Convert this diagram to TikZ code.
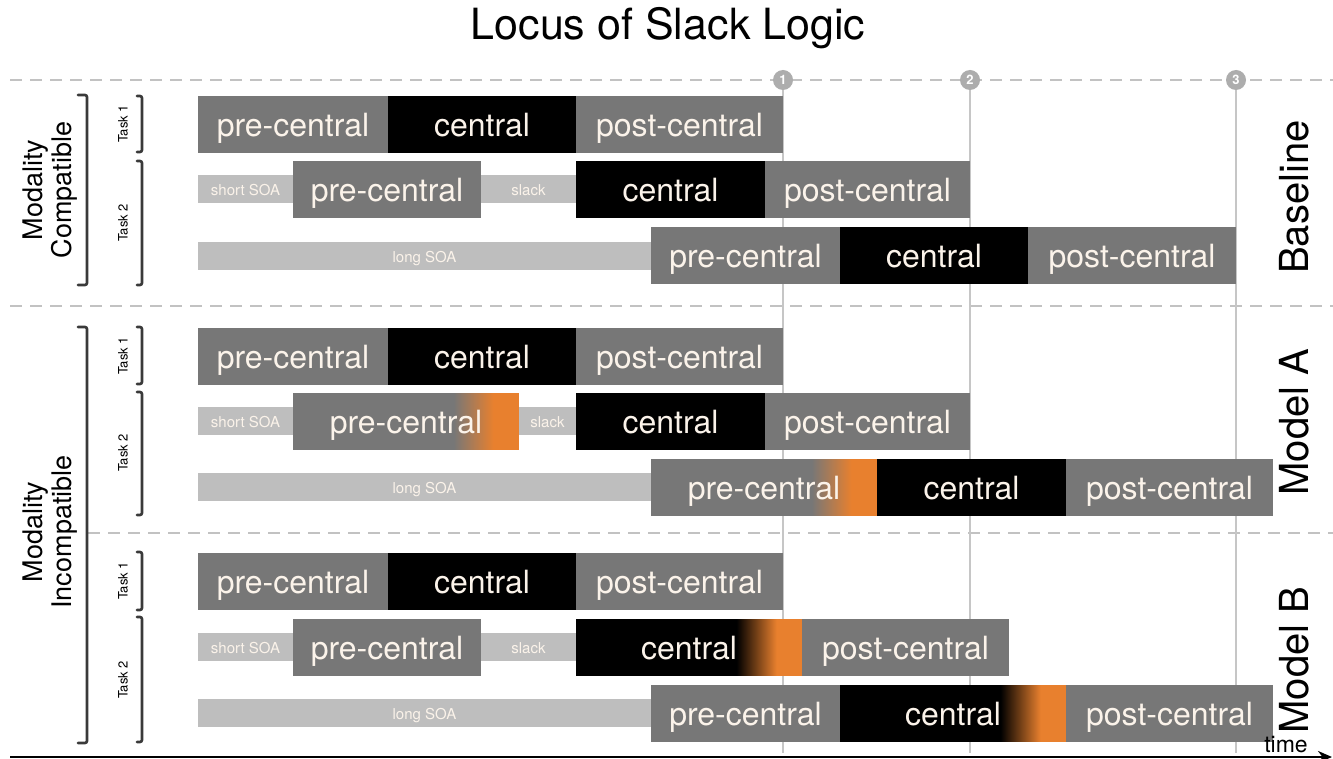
\documentclass[tikz,border=0pt]{standalone}
\usepackage{fontspec}
\setmainfont{TeX Gyre Heros}
\usetikzlibrary{arrows.meta}
\definecolor{dgray}{HTML}{777777}
\definecolor{lgray}{HTML}{BEBEBE}
\definecolor{org}{HTML}{E8802E}
\definecolor{cream}{HTML}{FBF3EA}
\definecolor{dashc}{HTML}{C2C2C2}
\definecolor{vline}{HTML}{C6C6C6}
\definecolor{circc}{HTML}{ADADAD}
\definecolor{brk}{HTML}{3A3A3A}
\begin{document}
\begin{tikzpicture}[x=1pt,y=-1pt,
  phase/.style={anchor=west, minimum height=57pt, inner sep=0pt, outer sep=0pt,
    text=cream, font=\fontsize{32}{32}\selectfont, text height=27pt, text depth=3pt},
  prebox/.style={phase, fill=dgray},
  cenbox/.style={phase, fill=black},
  postbox/.style={phase, fill=dgray},
  soabar/.style={anchor=west, minimum height=28pt, inner sep=0pt, outer sep=0pt,
    fill=lgray, text=cream, font=\fontsize{15}{15}\selectfont, text height=13pt, text depth=0pt},
  orangefade/.style={path picture={
    \foreach \i in {0,...,39}{
      \pgfmathsetmacro\pc{\i*2.5+1.25}
      \fill[org!\pc!#1]
        ([xshift={(\i-65)*1pt}]path picture bounding box.north east) rectangle
        ([xshift={(\i-63.6)*1pt}]path picture bounding box.south east);}
    \fill[org] ([xshift=-25pt]path picture bounding box.north east) rectangle
      (path picture bounding box.south east);}},
  dashline/.style={draw=dashc, line width=2pt, dash pattern=on 12pt off 8pt},
  milestone/.style={circle, fill=circc, minimum size=20pt, inner sep=0pt,
    text=white, font=\fontsize{13}{13}\selectfont\bfseries},
  timeline/.style={draw=vline, line width=1.3pt},
  brkt/.style={draw=brk, line width=2.6pt, rounded corners=2pt, line cap=round},
  tasklbl/.style={rotate=90, font=\fontsize{13}{13}\selectfont},
  grouplbl/.style={rotate=90, align=center, font=\fontsize{27}{29}\selectfont},
  modellbl/.style={rotate=90, font=\fontsize{40}{40}\selectfont}
]
\useasboundingbox[fill=white] (0,0) rectangle (1333,759);

% title
\node[font=\fontsize{43}{43}\selectfont] (title) at (668,28) {Locus of Slack Logic};

% dashed separators
\draw[dashline] (10,80) -- (1333,80);
\draw[dashline] (10,306) -- (1333,306);
\draw[dashline] (88,533) -- (1333,533);

% milestones and time lines
\coordinate (bot) at (0,753);
\node[milestone] (m1) at (783,80) {1};
\node[milestone] (m2) at (970,80) {2};
\node[milestone] (m3) at (1236,80) {3};
\draw[timeline] (m1.south) -- (m1 |- bot);
\draw[timeline] (m2.south) -- (m2 |- bot);
\draw[timeline] (m3.south) -- (m3 |- bot);

% ===== Baseline =====
\node[prebox, minimum width=190pt] (a1pre) at (198,124.5) {pre-central};
\node[cenbox, minimum width=188pt] (a1cen) at (388,124.5) {central};
\node[postbox, minimum width=207pt] (a1post) at (576,124.5) {post-central};

\node[soabar, minimum width=95pt] (a2soa) at (198,189.5) {short SOA};
\node[prebox, minimum width=188pt] (a2pre) at (293,189.5) {pre-central};
\node[soabar, minimum width=95pt] (a2slack) at (481,189.5) {slack};
\node[cenbox, minimum width=189pt] (a2cen) at (576,189.5) {central};
\node[postbox, minimum width=205pt] (a2post) at (765,189.5) {post-central};

\node[soabar, minimum width=453pt] (a3soa) at (198,256) {long SOA};
\node[prebox, minimum width=189pt] (a3pre) at (651,256) {pre-central};
\node[cenbox, minimum width=188pt] (a3cen) at (840,256) {central};
\node[postbox, minimum width=208pt] (a3post) at (1028,256) {post-central};

% ===== Model A =====
\node[prebox, minimum width=190pt] (b1pre) at (198,356) {pre-central};
\node[cenbox, minimum width=188pt] (b1cen) at (388,356) {central};
\node[postbox, minimum width=207pt] (b1post) at (576,356) {post-central};

\node[soabar, minimum width=95pt] (b2soa) at (198,421) {short SOA};
\node[prebox, orangefade=dgray, minimum width=226pt] (b2pre) at (293,421) {pre-central};
\node[soabar, minimum width=57pt] (b2slack) at (519,421) {slack};
\node[cenbox, minimum width=189pt] (b2cen) at (576,421) {central};
\node[postbox, minimum width=205pt] (b2post) at (765,421) {post-central};

\node[soabar, minimum width=453pt] (b3soa) at (198,487) {long SOA};
\node[prebox, orangefade=dgray, minimum width=226pt] (b3pre) at (651,487) {pre-central};
\node[cenbox, minimum width=189pt] (b3cen) at (877,487) {central};
\node[postbox, minimum width=207pt] (b3post) at (1066,487) {post-central};

% ===== Model B =====
\node[prebox, minimum width=190pt] (c1pre) at (198,581.5) {pre-central};
\node[cenbox, minimum width=188pt] (c1cen) at (388,581.5) {central};
\node[postbox, minimum width=207pt] (c1post) at (576,581.5) {post-central};

\node[soabar, minimum width=95pt] (c2soa) at (198,647) {short SOA};
\node[prebox, minimum width=188pt] (c2pre) at (293,647) {pre-central};
\node[soabar, minimum width=95pt] (c2slack) at (481,647) {slack};
\node[cenbox, orangefade=black, minimum width=226pt] (c2cen) at (576,647) {central};
\node[postbox, minimum width=207pt] (c2post) at (802,647) {post-central};

\node[soabar, minimum width=453pt] (c3soa) at (198,713) {long SOA};
\node[prebox, minimum width=189pt] (c3pre) at (651,713) {pre-central};
\node[cenbox, orangefade=black, minimum width=226pt] (c3cen) at (840,713) {central};
\node[postbox, minimum width=207pt] (c3post) at (1066,713) {post-central};

% right labels
\node[modellbl] (lbase) at (1294,197) {Baseline};
\node[modellbl] (lmodA) at (1294,422) {Model A};
\node[modellbl] (lmodB) at (1294,660) {Model B};

% left group labels and brackets
\node[grouplbl] (gcomp) at (50,190) {Modality\\Compatible};
\node[grouplbl] (ginc) at (50,532) {Modality\\Incompatible};
\draw[brkt] (78,95) -- (87,95) -- (87,285) -- (78,285);
\draw[brkt] (78,327) -- (87,327) -- (87,743) -- (78,743);

% task labels and brackets
\node[tasklbl] (t1a) at (123,124) {Task 1};
\node[tasklbl] (t2a) at (123,223) {Task 2};
\node[tasklbl] (t1b) at (123,356) {Task 1};
\node[tasklbl] (t2b) at (123,453) {Task 2};
\node[tasklbl] (t1c) at (123,581) {Task 1};
\node[tasklbl] (t2c) at (123,680) {Task 2};
\draw[brkt] (137,96) -- (142,96) -- (142,152) -- (137,152);
\draw[brkt] (137,161) -- (142,161) -- (142,285) -- (137,285);
\draw[brkt] (137,327) -- (142,327) -- (142,384) -- (137,384);
\draw[brkt] (137,392) -- (142,392) -- (142,515) -- (137,515);
\draw[brkt] (137,552) -- (142,552) -- (142,610) -- (137,610);
\draw[brkt] (137,617) -- (142,617) -- (142,742) -- (137,742);

% time axis
\coordinate (ax0) at (10,757);
\coordinate (ax1) at (1332,757);
\draw[line width=2.5pt, -{Stealth[length=14pt,width=12pt]}] (ax0) -- (ax1);
\node[font=\fontsize{23}{23}\selectfont] (tlbl) at (1286,745) {time};
\end{tikzpicture}
\end{document}
